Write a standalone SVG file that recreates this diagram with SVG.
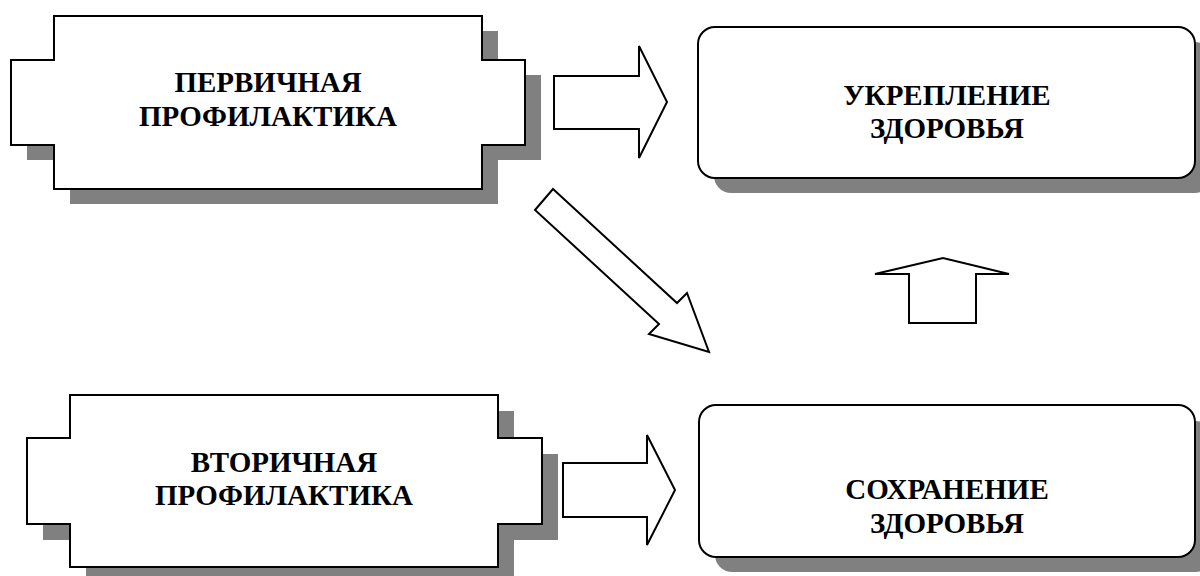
<svg xmlns="http://www.w3.org/2000/svg" width="1200" height="576" viewBox="0 0 1200 576">
<style>
.shadow{fill:#808080;stroke:none}
.shape{fill:#fff;stroke:#000;stroke-width:2;stroke-linejoin:miter}
.arrow{fill:#fff;stroke:#000;stroke-width:2;stroke-linejoin:miter}
.label{font-family:"Liberation Serif","Times New Roman",serif;font-weight:bold;font-size:29px;fill:#000;text-anchor:middle}
</style>
<rect width="1200" height="576" fill="#fff"/>
<g id="primary">
<path class="shadow" transform="translate(16,15)" d="M54,16 H482 V60 H525 V145 H482 V189 H54 V145 H11 V60 H54 Z"/>
<path class="shape" d="M54,16 H482 V60 H525 V145 H482 V189 H54 V145 H11 V60 H54 Z"/>
<text class="label" x="268" y="92">ПЕРВИЧНАЯ</text>
<text class="label" x="268" y="126">ПРОФИЛАКТИКА</text>
</g>
<g id="secondary">
<path class="shadow" transform="translate(16,16)" d="M70,395 H498 V438 H542 V524 H498 V567 H70 V524 H27 V438 H70 Z"/>
<path class="shape" d="M70,395 H498 V438 H542 V524 H498 V567 H70 V524 H27 V438 H70 Z"/>
<text class="label" x="284" y="472">ВТОРИЧНАЯ</text>
<text class="label" x="284" y="505">ПРОФИЛАКТИКА</text>
</g>
<g id="strengthening">
<rect class="shadow" x="714" y="42" width="498" height="151" rx="17"/>
<rect class="shape" x="698" y="27" width="497" height="151" rx="17"/>
<text class="label" x="947" y="105">УКРЕПЛЕНИЕ</text>
<text class="label" x="947" y="138">ЗДОРОВЬЯ</text>
</g>
<g id="preservation">
<rect class="shadow" x="715" y="421" width="498" height="151" rx="17"/>
<rect class="shape" x="699" y="405" width="496" height="152" rx="17"/>
<text class="label" x="947" y="499">СОХРАНЕНИЕ</text>
<text class="label" x="947" y="533">ЗДОРОВЬЯ</text>
</g>
<g id="connectors">
<path class="arrow" d="M554,76 H639 V46 L667,102 L639,158 V129 H554 Z"/>
<path class="arrow" d="M563,463 H647 V435 L675,490 L647,545 V517 H563 Z"/>
<path class="arrow" d="M553,189 L677,303 L687,293 L709,352 L649,334 L659,324 L535,210 Z"/>
<path class="arrow" d="M909,323 V274 H875 L943,258 L1009,274 H976 V323 Z"/>
</g>
</svg>
